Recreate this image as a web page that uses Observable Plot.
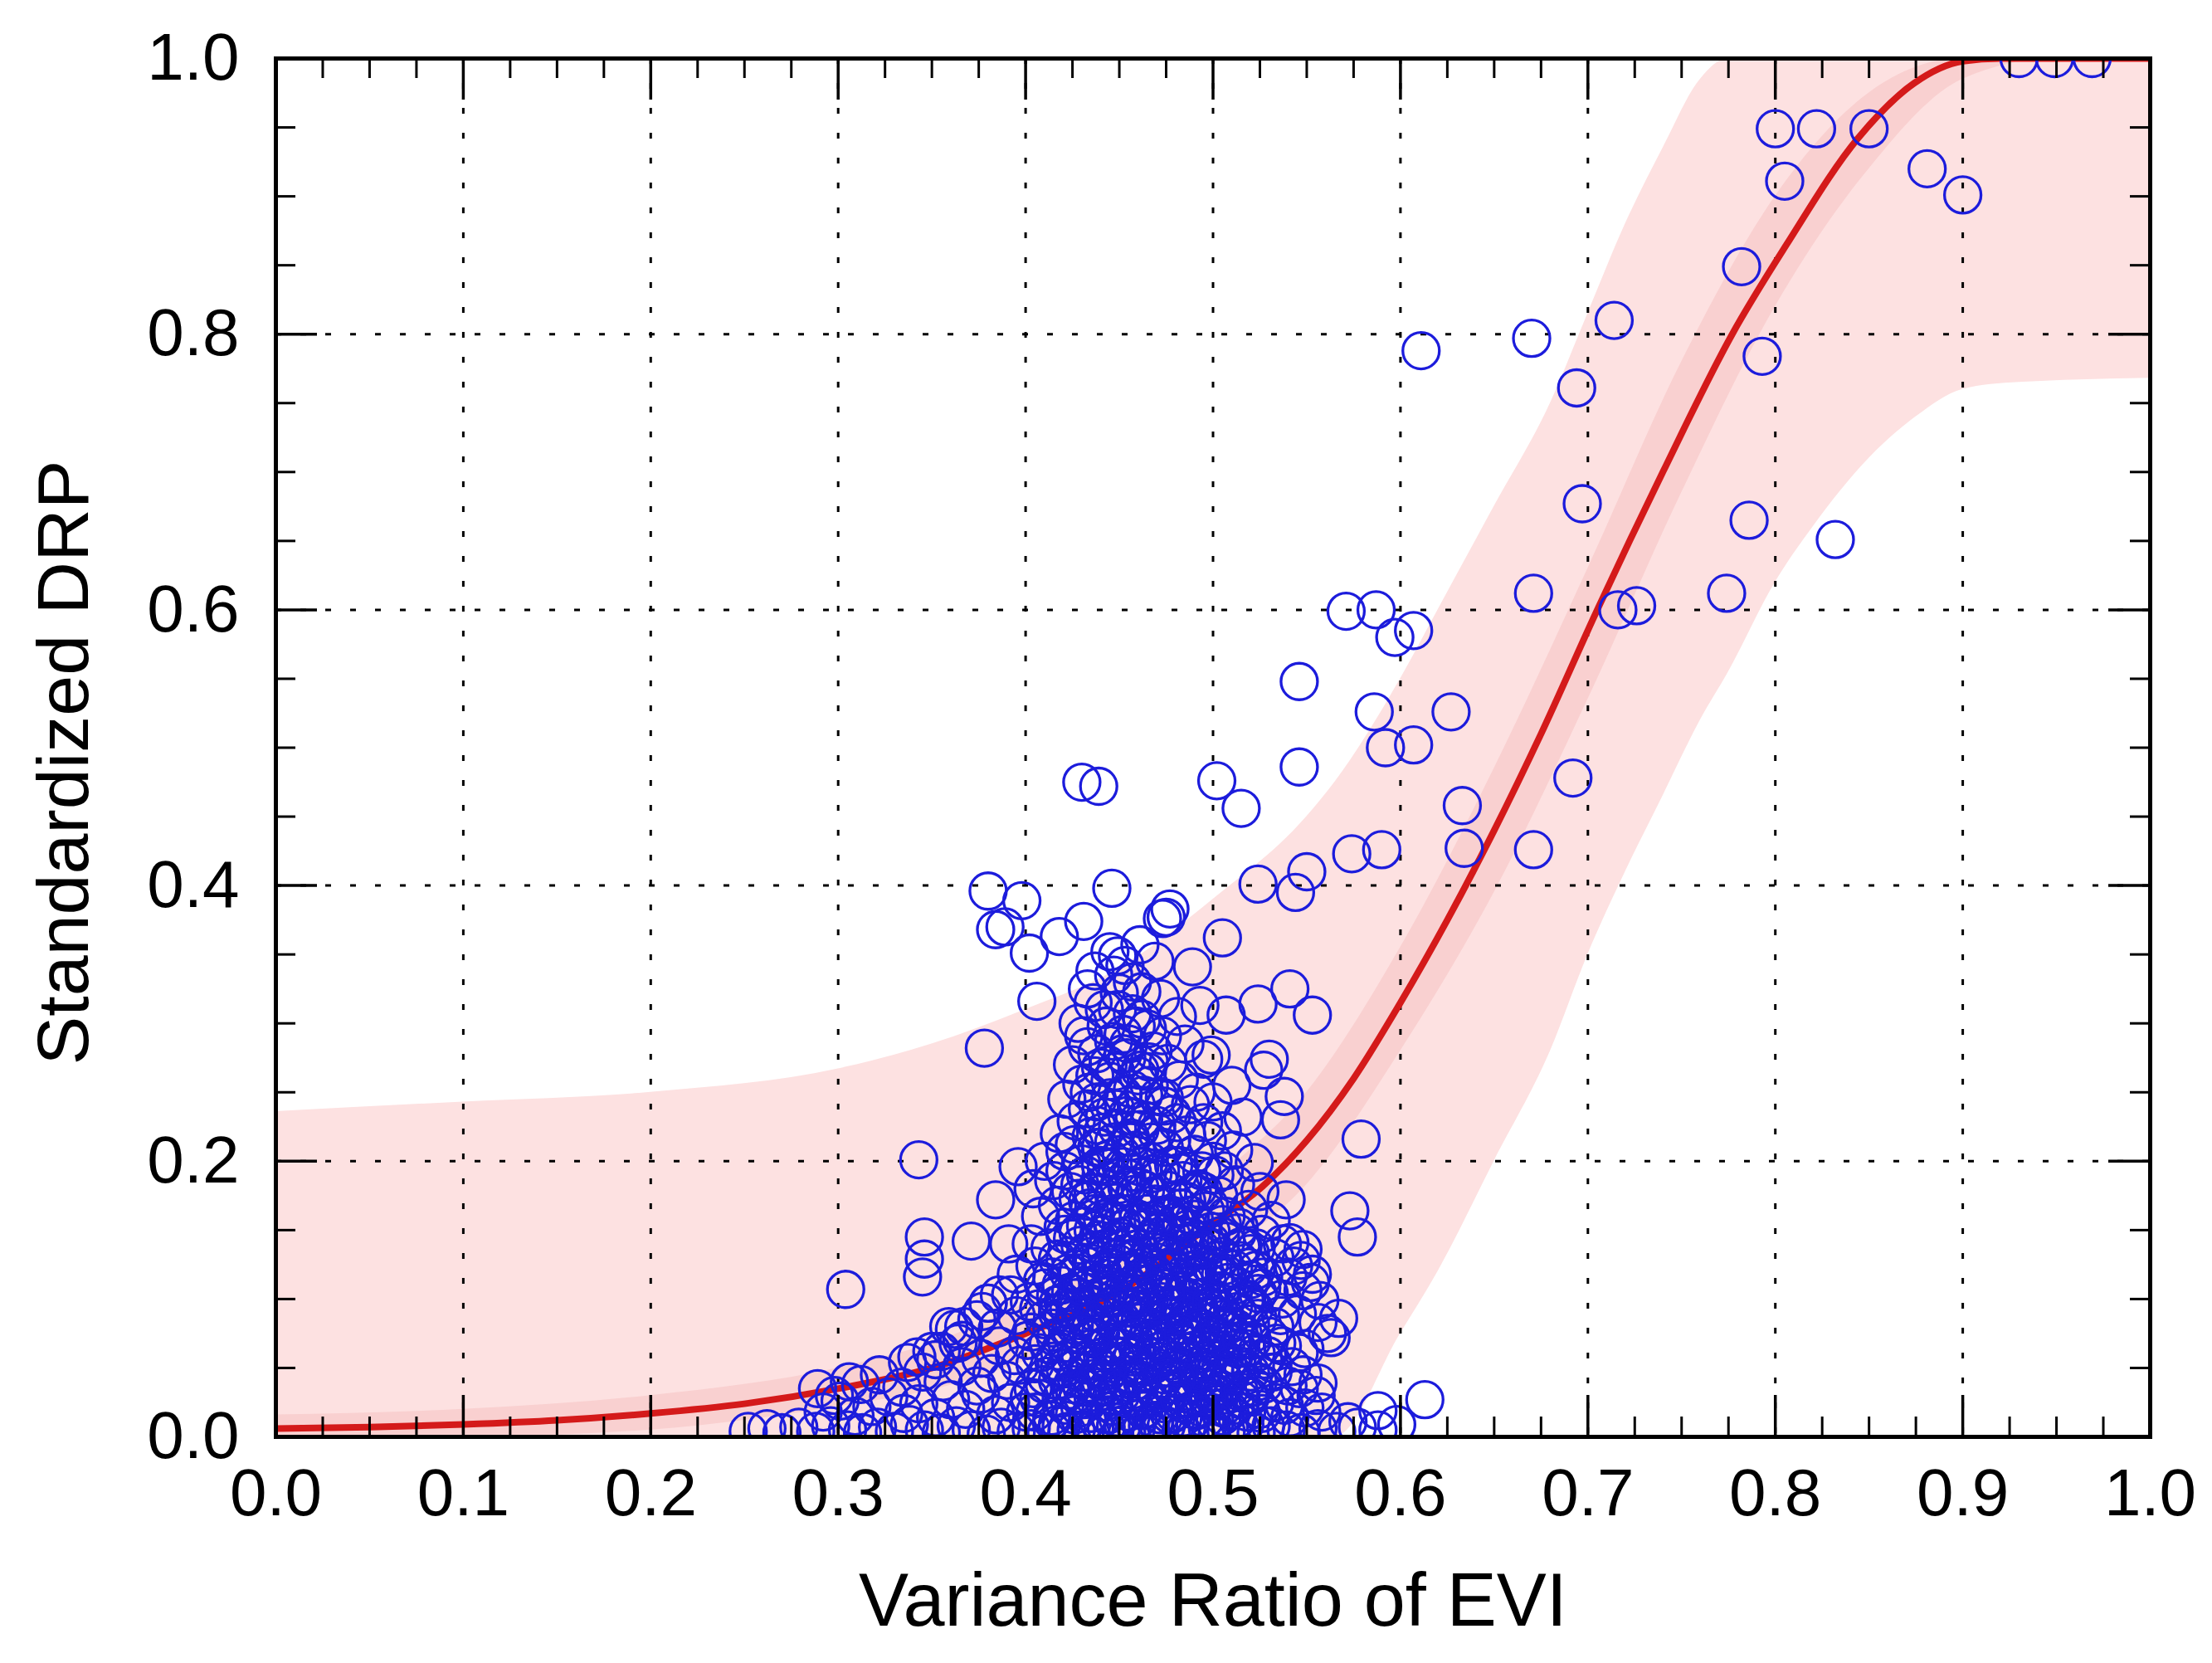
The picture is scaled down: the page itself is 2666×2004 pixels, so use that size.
<!DOCTYPE html>
<html>
<head>
<meta charset="utf-8">
<script src="https://cdn.jsdelivr.net/npm/d3@7"></script>
<script src="https://cdn.jsdelivr.net/npm/@observablehq/plot@0.6"></script>
<style>
  html, body { margin: 0; padding: 0; background: #ffffff; }
  #chart svg { display: block; }
</style>
</head>
<body>
<div id="chart"></div>
<script>
// ---------- tick values ----------
const xTicks = [0, 0.1, 0.2, 0.3, 0.4, 0.5, 0.6, 0.7, 0.8, 0.9, 1.0];
const xMinorTicks = [0.025, 0.05, 0.075, 0.125, 0.15, 0.175, 0.225, 0.25, 0.275, 0.325, 0.35, 0.375,
  0.425, 0.45, 0.475, 0.525, 0.55, 0.575, 0.625, 0.65, 0.675, 0.725, 0.75, 0.775,
  0.825, 0.85, 0.875, 0.925, 0.95, 0.975];
const yTicks = [0, 0.2, 0.4, 0.6, 0.8, 1.0];
const yMinorTicks = [0.05, 0.1, 0.15, 0.25, 0.3, 0.35, 0.45, 0.5, 0.55, 0.65, 0.7, 0.75, 0.85, 0.9, 0.95];

// ---------- fitted curve (red) ----------
const fitX = [0, 0.05, 0.1, 0.15, 0.2, 0.25, 0.3, 0.35, 0.4, 0.45, 0.5, 0.525, 0.55, 0.575, 0.6, 0.625, 0.65, 0.675, 0.705, 0.74, 0.777, 0.806, 0.844, 0.874, 0.9, 0.92, 1.0];
const fitY = [0.006, 0.007, 0.009, 0.012, 0.017, 0.024, 0.035, 0.05, 0.075, 0.105, 0.155, 0.18, 0.215, 0.26, 0.315, 0.375, 0.44, 0.51, 0.6, 0.7, 0.8, 0.865, 0.942, 0.982, 0.998, 1.0, 1.0];

// ---------- outer (prediction) band ----------
const bandX     = [0, 0.1, 0.2, 0.3, 0.35, 0.4, 0.45, 0.5, 0.55, 0.565, 0.6, 0.62, 0.65, 0.68, 0.7, 0.72, 0.74, 0.76, 0.775, 0.8, 0.82, 0.85, 0.875, 0.9, 0.93, 1.0];
const bandUpper = [0.236, 0.243, 0.25, 0.267, 0.285, 0.31, 0.34, 0.39, 0.45, 0.475, 0.55, 0.6, 0.675, 0.75, 0.815, 0.88, 0.935, 0.985, 1.0, 1.0, 1.0, 1.0, 1.0, 1.0, 1.0, 1.0];
const bandLower = [0, 0, 0, 0, 0, 0, 0, 0, 0, 0, 0.075, 0.12, 0.2, 0.28, 0.35, 0.41, 0.465, 0.52, 0.555, 0.62, 0.66, 0.71, 0.74, 0.76, 0.765, 0.768];

// ---------- inner (confidence) band ----------
const innerX     = [0, 0.1, 0.2, 0.3, 0.35, 0.4, 0.45, 0.5, 0.55, 0.6, 0.65, 0.7, 0.75, 0.8, 0.85, 0.9, 0.95, 1.0];
const innerUpper = [0.016, 0.02, 0.03, 0.05, 0.068, 0.097, 0.13, 0.185, 0.25, 0.355, 0.485, 0.63, 0.78, 0.9, 0.975, 1.0, 1.0, 1.0];
const innerLower = [0, 0, 0.005, 0.022, 0.034, 0.055, 0.083, 0.128, 0.183, 0.28, 0.395, 0.535, 0.685, 0.82, 0.92, 0.985, 1.0, 1.0];

// ---------- observations: [variance ratio of EVI, standardized DRP] ----------
const pointsHigh = [
  [.930,1.0],[.949,1.0],[.969,1.0],
  [.800,.949],[.822,.949],[.850,.949],[.805,.911],[.881,.920],[.900,.901],
  [.782,.849],[.714,.810],[.670,.797],[.611,.788],[.793,.784],[.694,.761],
  [.697,.677],[.786,.665],[.832,.651],
  [.671,.612],[.774,.612],[.716,.600],[.726,.603]
];
const pointsMid = [
  [.571,.599],[.587,.600],[.597,.580],[.607,.585],
  [.546,.548],[.586,.526],[.627,.526],[.592,.500],[.607,.502],
  [.546,.486],[.430,.475],[.439,.472],[.502,.476],[.515,.456],
  [.692,.478],[.633,.458],[.634,.427],[.671,.426],
  [.574,.423],[.590,.426],[.550,.410],[.524,.401],[.544,.395],
  [.380,.396],[.398,.389],[.446,.398],[.477,.383],[.475,.377]
];
const pointsScatter = [
  [.384,.368],[.389,.370],[.402,.351],[.418,.363],[.431,.374],[.449,.349],[.473,.376],[.505,.362],
  [.406,.316],[.378,.282],[.489,.341],[.524,.314],[.541,.325],[.553,.306],[.507,.306],[.493,.313],
  [.499,.277],[.530,.274],[.527,.266],[.538,.247],[.536,.230],[.579,.216],
  [.343,.201],[.396,.196],[.384,.172],[.539,.172],[.573,.164],[.577,.145],
  [.371,.142],[.391,.140],[.346,.145],[.346,.129],[.345,.116],[.304,.107],
  [.367,.080],[.380,.097],[.352,.056],[.306,.040],[.289,.035],[.298,.030],
  [.542,.051],[.613,.027],[.588,.019],[.572,.011],[.567,.086],[.563,.072],
  [.557,.099],[.561,.075],[.549,.064],[.546,.035],[.555,.030],[.552,.112],[.547,.128],[.541,.141],
  [.364,.068],[.350,.062],[.337,.054],[.377,.091],[.386,.103],[.359,.080]
];
const pointsBase = [
  [.252,.004],[.262,.006],[.270,.003],[.279,.007],[.288,.004],[.296,.008],[.305,.005],[.313,.003],
  [.321,.007],[.330,.004],[.338,.009],[.346,.005],[.355,.003],[.363,.008],[.371,.005],[.379,.002],
  [.387,.007],[.395,.004],[.403,.006],[.411,.003],[.419,.008],[.427,.005],[.435,.002],[.443,.007],
  [.451,.004],[.459,.006],[.467,.003],[.475,.008],[.483,.005],[.491,.002],[.499,.007],[.507,.004],
  [.515,.006],[.523,.003],[.531,.008],[.539,.005],[.547,.003],[.556,.006],[.566,.004],[.577,.007],
  [.588,.005],[.598,.009]
];
const pointsCluster = [
  [.292,.018],[.301,.026],[.309,.015],[.318,.022],[.327,.029],[.335,.017],[.343,.024],[.352,.014],
  [.360,.027],[.368,.020],[.376,.031],[.384,.016],[.392,.025],[.400,.018],[.407,.028],[.414,.015],
  [.421,.023],[.428,.030],[.435,.017],[.442,.025],[.449,.014],[.456,.027],[.463,.020],[.470,.031],
  [.477,.016],[.484,.024],[.491,.019],[.498,.028],[.505,.015],[.512,.023],[.519,.030],[.526,.017],
  [.533,.025],[.541,.014],[.549,.021],[.558,.018],
  [.312,.038],[.322,.045],[.334,.036],[.345,.047],[.356,.040],[.366,.051],[.374,.037],[.382,.046],
  [.390,.041],[.397,.052],[.404,.035],[.411,.044],[.418,.050],[.425,.038],[.432,.047],[.439,.036],
  [.446,.053],[.453,.042],[.460,.049],[.467,.037],[.474,.045],[.481,.052],[.488,.039],[.495,.048],
  [.502,.036],[.509,.044],[.516,.051],[.524,.040],[.532,.047],[.540,.037],[.548,.045],[.556,.039],
  [.342,.058],[.355,.062],[.366,.070],[.376,.057],[.386,.066],[.394,.059],[.401,.070],[.408,.061],
  [.415,.055],[.422,.068],[.429,.060],[.436,.071],[.443,.056],[.450,.065],[.457,.058],[.464,.070],
  [.471,.062],[.478,.055],[.485,.067],[.492,.060],[.499,.071],[.506,.057],[.513,.064],[.521,.070],
  [.529,.059],[.537,.066],[.546,.061],
  [.362,.078],[.374,.085],[.385,.079],[.395,.088],[.403,.076],[.410,.085],[.417,.090],[.424,.078],
  [.431,.087],[.438,.080],[.445,.091],[.452,.077],[.459,.086],[.466,.080],[.473,.090],[.480,.076],
  [.487,.085],[.494,.079],[.501,.088],[.508,.081],[.516,.075],[.524,.086],[.533,.080],[.545,.089],
  [.556,.083],
  [.380,.097],[.392,.103],[.402,.098],[.410,.108],[.417,.096],[.424,.105],[.431,.110],[.438,.099],
  [.445,.107],[.452,.096],[.459,.104],[.466,.111],[.473,.098],[.480,.106],[.487,.100],[.494,.109],
  [.501,.097],[.509,.105],[.517,.099],[.526,.108],[.537,.100],[.548,.106],
  [.395,.118],[.405,.124],[.414,.116],[.421,.128],[.428,.119],[.435,.126],[.442,.115],[.449,.130],
  [.456,.121],[.463,.117],[.470,.127],[.477,.120],[.484,.129],[.491,.116],[.498,.125],[.506,.119],
  [.514,.128],[.523,.121],[.533,.130],[.543,.124],[.553,.118],
  [.403,.140],[.413,.137],[.421,.147],[.429,.139],[.436,.150],[.443,.136],[.450,.145],[.457,.140],
  [.464,.151],[.471,.137],[.478,.146],[.485,.141],[.492,.135],[.499,.149],[.507,.142],[.516,.138],
  [.526,.147],[.537,.140],[.548,.136],
  [.408,.160],[.417,.168],[.426,.157],[.434,.166],[.441,.158],[.448,.170],[.455,.162],[.462,.156],
  [.469,.169],[.476,.161],[.483,.166],[.490,.158],[.498,.168],[.507,.160],[.519,.165],[.531,.157],
  [.404,.180],[.415,.186],[.424,.178],[.432,.190],[.440,.182],[.447,.176],[.454,.188],[.461,.181],
  [.468,.191],[.476,.179],[.484,.186],[.492,.180],[.501,.190],[.512,.183],[.525,.178],
  [.410,.200],[.421,.207],[.430,.198],[.438,.210],[.445,.202],[.452,.196],[.459,.208],[.466,.200],
  [.474,.210],[.482,.197],[.490,.205],[.500,.200],[.511,.208],[.522,.199],
  [.418,.220],[.427,.229],[.435,.218],[.442,.232],[.449,.224],[.456,.217],[.463,.230],[.470,.221],
  [.478,.234],[.486,.219],[.495,.228],[.505,.222],[.516,.232],
  [.422,.245],[.430,.256],[.438,.243],[.445,.258],[.452,.248],[.459,.241],[.466,.255],[.474,.246],
  [.482,.259],[.491,.250],[.500,.243],[.510,.255],
  [.425,.270],[.433,.283],[.440,.268],[.447,.287],[.454,.275],[.461,.266],[.468,.280],[.476,.271],
  [.485,.285],[.495,.274],
  [.428,.300],[.436,.315],[.443,.298],[.450,.322],[.457,.307],[.465,.296],[.472,.318],[.481,.305],
  [.437,.338],[.445,.352],[.453,.342],[.461,.357],[.469,.345]
];
const pointsCore = [
  [.414,.012],[.424,.034],[.433,.012],[.440,.040],[.447,.022],[.455,.045],[.460,.013],[.468,.035],
  [.474,.024],[.481,.043],[.488,.011],[.495,.036],[.503,.026],[.418,.062],[.426,.081],[.433,.052],
  [.440,.075],[.447,.095],[.454,.067],[.461,.083],[.468,.052],[.475,.074],[.482,.094],[.489,.071],
  [.496,.055],[.503,.092],[.510,.068],[.416,.102],[.423,.119],[.432,.134],[.439,.112],[.446,.123],
  [.453,.133],[.460,.114],[.467,.141],[.474,.108],[.481,.132],[.489,.121],[.497,.113],[.505,.131],
  [.420,.152],[.428,.173],[.437,.162],[.444,.186],[.451,.155],[.458,.176],[.465,.162],[.472,.193],
  [.479,.172],[.487,.151],[.495,.178],[.440,.210],[.448,.238],[.456,.214],[.463,.248],[.470,.226],
  [.444,.270],[.452,.292],[.460,.262],[.449,.310],[.457,.330]
];
const pointsDense = [
  [.405,.018],[.417,.009],[.429,.021],[.437,.006],[.444,.016],[.452,.009],[.463,.019],[.471,.008],
  [.479,.017],[.486,.007],[.494,.021],[.501,.011],[.509,.019],[.517,.009],[.525,.020],
  [.402,.029],[.410,.038],[.419,.028],[.427,.043],[.436,.029],[.444,.036],[.451,.031],[.458,.040],
  [.466,.028],[.473,.041],[.479,.033],[.486,.028],[.493,.042],[.500,.031],[.507,.039],[.515,.027],[.522,.036],
  [.405,.053],[.412,.067],[.421,.050],[.427,.058],[.434,.064],[.441,.049],[.448,.059],[.455,.054],
  [.462,.062],[.470,.058],[.476,.066],[.483,.050],[.490,.063],[.497,.068],[.504,.050],[.511,.058],[.518,.064],
  [.407,.093],[.414,.079],[.420,.087],[.428,.094],[.435,.083],[.442,.088],[.449,.081],[.456,.094],
  [.463,.077],[.470,.084],[.477,.095],[.484,.081],[.491,.092],[.498,.083],[.505,.078],[.513,.091],[.520,.082],
  [.409,.113],[.419,.110],[.427,.101],[.434,.114],[.441,.103],[.448,.117],[.455,.109],[.462,.101],
  [.469,.118],[.476,.113],[.483,.103],[.490,.112],[.497,.102],[.504,.118],[.512,.110],[.520,.114],
  [.417,.129],[.425,.144],[.432,.153],[.439,.143],[.446,.156],[.454,.146],[.461,.137],[.468,.157],
  [.475,.148],[.483,.154],[.490,.143],[.498,.138],[.505,.154],[.513,.148],[.520,.133],
  [.421,.193],[.429,.183],[.436,.177],[.443,.196],[.450,.183],[.457,.192],[.464,.179],[.471,.187],
  [.479,.197],[.486,.171],[.494,.193],[.503,.175],
  [.426,.212],[.433,.238],[.441,.221],[.447,.214],[.454,.233],[.461,.223],[.467,.214],[.474,.240],
  [.481,.228],[.488,.241],[.497,.215],[.434,.250],[.457,.252],
  [.431,.291],[.438,.278],[.442,.310],[.448,.265],[.455,.285],[.462,.303],[.466,.272],[.473,.291],
  [.433,.325],[.447,.335],[.462,.323]
];
const pointsCenter = [
  [.422,.004],[.431,.027],[.439,.011],[.446,.030],[.454,.002],[.461,.026],[.469,.012],[.476,.032],
  [.484,.014],[.490,.030],[.497,.006],[.505,.034],[.513,.013],[.520,.029],[.528,.008],
  [.417,.041],[.423,.057],[.430,.036],[.437,.055],[.443,.045],[.450,.058],[.457,.034],[.463,.047],
  [.471,.055],[.477,.038],[.484,.059],[.491,.046],[.498,.057],[.505,.043],[.513,.052],[.520,.047],[.527,.056],
  [.416,.072],[.423,.093],[.430,.074],[.437,.090],[.444,.068],[.451,.085],[.458,.071],[.465,.092],
  [.472,.069],[.479,.087],[.486,.073],[.493,.091],[.500,.075],[.507,.086],[.515,.070],[.522,.093],[.530,.073],
  [.420,.098],[.427,.117],[.434,.097],[.441,.120],[.448,.101],[.455,.119],[.462,.093],[.469,.104],
  [.476,.121],[.483,.095],[.490,.118],[.497,.094],[.504,.106],[.511,.122],[.518,.100],[.527,.116],
  [.428,.148],[.435,.131],[.442,.147],[.449,.126],[.456,.155],[.463,.127],[.470,.148],[.477,.131],
  [.484,.146],[.491,.127],[.499,.141],[.506,.124],[.514,.152],[.523,.137],
  [.433,.171],[.440,.197],[.447,.162],[.454,.181],[.461,.196],[.468,.175],[.475,.159],[.482,.192],
  [.489,.177],[.496,.164],[.506,.193],
  [.438,.226],[.445,.246],[.451,.205],[.458,.232],[.465,.265],[.471,.247],[.478,.216],[.452,.278],
  [.459,.298],[.437,.262]
];
const pointsHeart = [
  [.426,.016],[.433,.039],[.441,.058],[.448,.008],[.453,.077],[.459,.052],[.465,.008],[.466,.098],
  [.472,.016],[.473,.134],[.478,.061],[.482,.027],[.485,.112],[.487,.088],[.492,.052],[.494,.136],
  [.496,.013],[.499,.099],[.502,.064],[.505,.021],[.508,.112],[.510,.047],[.512,.079],[.515,.138],
  [.518,.018],[.520,.096],[.523,.061],[.527,.038],[.530,.104],[.534,.068],[.538,.023],[.440,.128],
  [.444,.104],[.451,.142],[.457,.100],[.460,.158],[.464,.124],[.470,.070],[.475,.102],[.480,.156],
  [.488,.135],[.490,.020],[.493,.079],[.500,.123],[.504,.146],[.511,.095],[.435,.072],[.430,.109],
  [.427,.088],[.438,.043],[.446,.066],[.450,.037],[.455,.018],[.458,.129],[.462,.041],[.468,.118],
  [.470,.145],[.476,.087],[.480,.043],[.484,.075],[.488,.161],[.497,.029],[.501,.047],[.507,.069],
  [.514,.033],[.519,.123],[.524,.104],[.532,.053],[.536,.088],[.540,.116]
];

// ---------- build tables ----------
const fit = fitX.map((x, i) => ({x, y: fitY[i]}));
const band = bandX.map((x, i) => ({x, lo: bandLower[i], hi: bandUpper[i]}));
const inner = innerX.map((x, i) => ({x, lo: innerLower[i], hi: innerUpper[i]}));
const points = [...pointsBase, ...pointsCluster, ...pointsCore, ...pointsDense, ...pointsCenter, ...pointsHeart,
  ...pointsScatter, ...pointsMid, ...pointsHigh].map(([x, y]) => ({x, y}));

const W = 2666, H = 2004;
const mL = 332, mR = 75, mT = 70, mB = 273;
const fw = W - mL - mR, fh = H - mT - mB;
const ink = "#000000";

const chart = Plot.plot({
  width: W, height: H,
  marginLeft: mL, marginRight: mR, marginTop: mT, marginBottom: mB,
  x: {domain: [0, 1], axis: null, label: null},
  y: {domain: [0, 1], axis: null, label: null},
  style: {fontFamily: "'Liberation Sans', Arial, Helvetica, sans-serif", fontSize: "80px", background: "#ffffff", color: ink},
  marks: [
    Plot.areaY(band, {x: "x", y1: "lo", y2: "hi", fill: "#fde1e1", curve: "monotone-x", clip: true}),
    Plot.areaY(inner, {x: "x", y1: "lo", y2: "hi", fill: "#f9d0d0", curve: "monotone-x", clip: true}),
    Plot.ruleX(xTicks.slice(1, -1), {stroke: ink, strokeWidth: 3, strokeDasharray: "7,23"}),
    Plot.ruleY(yTicks.slice(1, -1), {stroke: ink, strokeWidth: 3, strokeDasharray: "7,23"}),
    Plot.line(fit, {x: "x", y: "y", stroke: "#d41a1a", strokeWidth: 8, curve: "monotone-x", clip: true}),
    Plot.dot(points, {x: "x", y: "y", r: 22, stroke: "#1c1cdc", strokeWidth: 3.3, fill: "none", clip: true}),
    // inward ticks on all four sides
    Plot.ruleX(xTicks, {stroke: ink, strokeWidth: 3.5, insetTop: fh - 50}),
    Plot.ruleX(xTicks, {stroke: ink, strokeWidth: 3.5, insetBottom: fh - 50}),
    Plot.ruleX(xMinorTicks, {stroke: ink, strokeWidth: 3, insetTop: fh - 24}),
    Plot.ruleX(xMinorTicks, {stroke: ink, strokeWidth: 3, insetBottom: fh - 24}),
    Plot.ruleY(yTicks, {stroke: ink, strokeWidth: 3.5, insetRight: fw - 50}),
    Plot.ruleY(yTicks, {stroke: ink, strokeWidth: 3.5, insetLeft: fw - 50}),
    Plot.ruleY(yMinorTicks, {stroke: ink, strokeWidth: 3, insetRight: fw - 24}),
    Plot.ruleY(yMinorTicks, {stroke: ink, strokeWidth: 3, insetLeft: fw - 24}),
    Plot.frame({stroke: ink, strokeWidth: 5}),
    Plot.axisX(xTicks, {tickSize: 0, tickPadding: 38, tickFormat: d3.format(".1f"), fontSize: 80, label: null}),
    Plot.axisY(yTicks, {tickSize: 0, tickPadding: 44, tickFormat: d3.format(".1f"), fontSize: 80, label: null}),
    Plot.text(["Variance Ratio of EVI"], {frameAnchor: "bottom", lineAnchor: "middle", dy: 199, fontSize: 90, text: d => d}),
    Plot.text(["Standardized DRP"], {frameAnchor: "left", textAnchor: "middle", lineAnchor: "middle", dx: -255, dy: 18, rotate: -90, fontSize: 88, text: d => d})
  ]
});
document.getElementById("chart").appendChild(chart);
</script>
</body>
</html>
